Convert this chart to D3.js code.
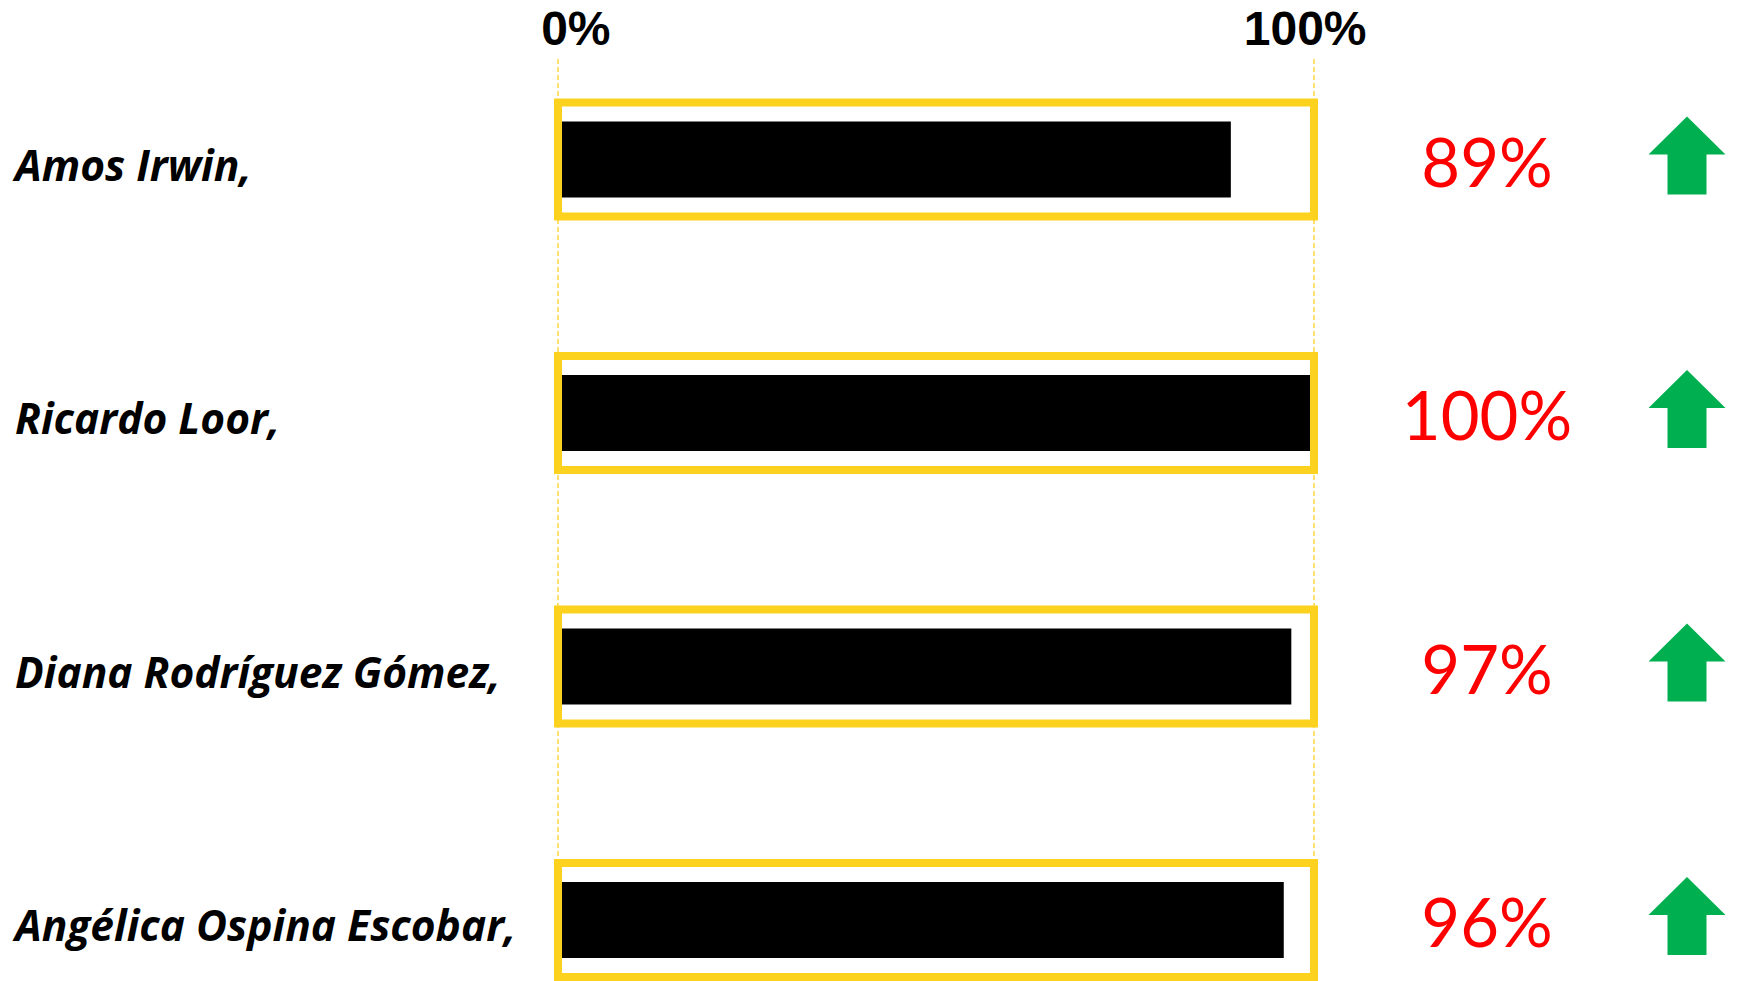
<!DOCTYPE html>
<html>
<head>
<meta charset="utf-8">
<script src="https://cdn.jsdelivr.net/npm/d3@7"></script>
<style>
  html, body { margin: 0; padding: 0; background: #ffffff; }
  svg { display: block; }
</style>
</head>
<body>
<div id="chart"></div>
<script>
// ---- data ----
const names = ["Amos Irwin,", "Ricardo Loor,", "Diana Rodríguez Gómez,", "Angélica Ospina Escobar,"];
const values = [0.89, 1.00, 0.97, 0.96];
const trends = ["up", "up", "up", "up"];
const tickValues = [0, 1];

// ---- layout ----
const W = 1747, H = 981;
const svg = d3.select("#chart").append("svg").attr("width", W).attr("height", H);

const x = d3.scaleLinear().domain([0, 1]).range([558, 1314]);
const y = d3.scalePoint().domain(names).range([159.5, 920]);

const gold = "#FCD21E";
const frameH = 114, barH = 76;

// dashed reference lines
svg.append("g").selectAll("line").data(tickValues).join("line")
  .attr("x1", d => x(d)).attr("x2", d => x(d))
  .attr("y1", 59).attr("y2", H)
  .attr("stroke", gold).attr("stroke-width", 1.3)
  .attr("stroke-dasharray", "5,3");

// top axis labels
const axis = d3.axisTop(x).tickValues(tickValues).tickFormat(d3.format(".0%")).tickSize(0).tickPadding(0);
const ag = svg.append("g").attr("transform", "translate(0,45)").call(axis);
ag.select(".domain").remove();
ag.selectAll("text")
  .attr("text-anchor", "end").attr("dx", 52).attr("dy", 0)
  .attr("font-family", "'Liberation Sans', Arial, sans-serif")
  .attr("font-weight", "bold").attr("font-size", 48).attr("fill", "#000");

const rows = svg.append("g").selectAll("g").data(names).join("g")
  .attr("transform", d => `translate(0,${y(d)})`);

// bars
rows.append("rect")
  .attr("x", x(0)).attr("y", -barH / 2)
  .attr("width", (d, i) => x(values[i]) - x(0)).attr("height", barH)
  .attr("fill", "#000");

// frames
rows.append("rect")
  .attr("x", x(0)).attr("y", -frameH / 2)
  .attr("width", x(1) - x(0)).attr("height", frameH)
  .attr("fill", "none").attr("stroke", gold).attr("stroke-width", 8);

// category labels
rows.append("text")
  .attr("x", 15).attr("y", 21)
  .attr("font-family", "'Open Sans', 'Noto Sans', sans-serif")
  .attr("font-weight", "bold").attr("font-style", "italic")
  .attr("font-size", 42.5).attr("fill", "#000")
  .text(d => d);

// value labels
const pct = d3.format(".0%");
rows.append("text")
  .attr("x", 1487).attr("y", 27).attr("text-anchor", "middle")
  .attr("font-family", "Lato, 'Open Sans', sans-serif")
  .attr("font-size", 67).attr("fill", "#FF0000")
  .text((d, i) => pct(values[i]));

// trend arrows
const aw = 77, ah = 78, headH = 38, shaftW = 39;
const arrowPath = d3.path();
arrowPath.moveTo(0, 0);
arrowPath.lineTo(aw / 2, headH);
arrowPath.lineTo(shaftW / 2, headH);
arrowPath.lineTo(shaftW / 2, ah);
arrowPath.lineTo(-shaftW / 2, ah);
arrowPath.lineTo(-shaftW / 2, headH);
arrowPath.lineTo(-aw / 2, headH);
arrowPath.closePath();

rows.append("path")
  .attr("d", arrowPath.toString())
  .attr("transform", (d, i) => trends[i] === "up" ? "translate(1687,-43)" : "translate(1687,35) rotate(180)")
  .attr("fill", (d, i) => trends[i] === "up" ? "#00B050" : "#C00000");
</script>
</body>
</html>
